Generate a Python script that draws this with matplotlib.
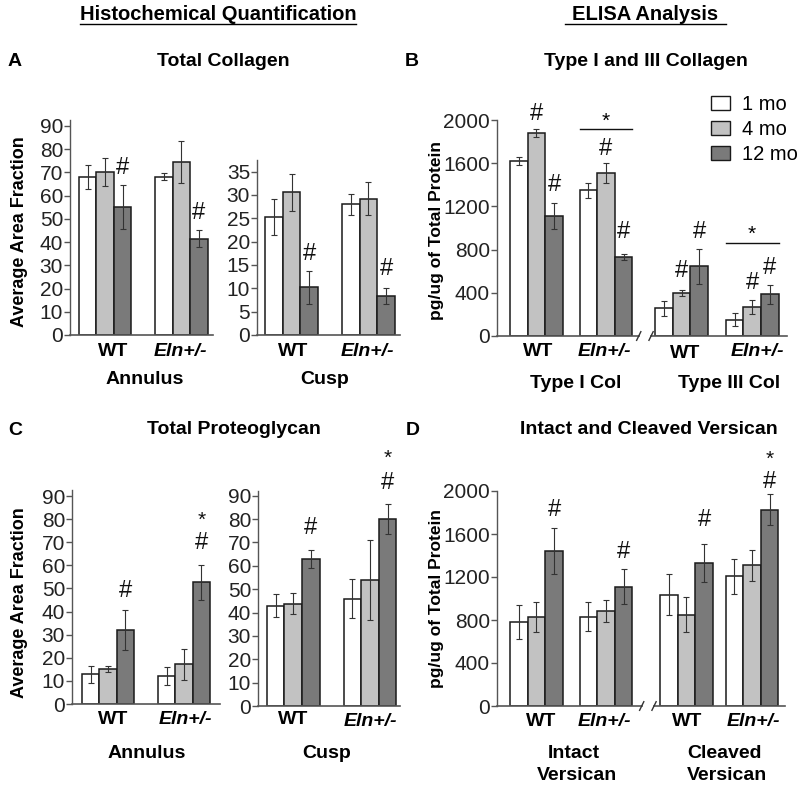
import numpy as np
import matplotlib
matplotlib.use("Agg")
import matplotlib.pyplot as plt
from matplotlib.patches import Patch

plt.rcParams['font.family'] = ['Liberation Sans', 'DejaVu Sans']

W, H = 800, 788

ages = ['1 mo', '4 mo', '12 mo']
colors = ['#ffffff', '#c2c2c2', '#7a7a7a']

# A - total collagen (histochemical)
colA_ann = [[68, 70, 55], [68, 74.5, 41.5]]
colA_ann_err = [[5, 6, 9.5], [1.5, 9, 3.5]]
colA_cusp = [[25.3, 30.6, 10.2], [28, 29.2, 8.3]]
colA_cusp_err = [[3.8, 4, 3.5], [2.2, 3.5, 1.7]]

# B - type I / III collagen (ELISA)
colB = [[1620, 1880, 1110], [1350, 1510, 730], [255, 400, 645], [150, 265, 385]]
colB_err = [[40, 40, 120], [70, 90, 30], [70, 30, 160], [60, 65, 85]]

# C - total proteoglycan
pgC_ann = [[12.8, 15, 32], [12.2, 17.2, 52.7]]
pgC_ann_err = [[3.8, 1.3, 8.5], [4, 6.7, 7.5]]
pgC_cusp = [[43, 43.8, 63], [46, 54, 80]]
pgC_cusp_err = [[5, 4.5, 3.8], [8.5, 17, 6.5]]

# D - intact / cleaved versican
verD = [[780, 830, 1440], [830, 885, 1110], [1035, 850, 1330], [1205, 1310, 1825]]
verD_err = [[160, 140, 215], [135, 105, 165], [190, 165, 180], [160, 145, 145]]

fig = plt.figure(figsize=(W / 100, H / 100), dpi=100)


def fx(x):
  return x / W


def fy(y):
  return 1 - y / H


def mk_axes(left, right, top, bottom):
  return fig.add_axes([fx(left), fy(bottom), (right - left) / W, (bottom - top) / H])


def draw(ax, groups, vals, errs, xlim, ylim, ticks, brk=None):
  groups = np.array(groups)
  for k in range(3):
    v = [g[k] for g in vals]
    e = [g[k] for g in errs]
    ax.bar(groups + k - 1, v, width=1.0, color=colors[k], edgecolor='#1a1a1a',
           linewidth=1.1, yerr=e, capsize=2.2,
           error_kw=dict(ecolor='#333333', elinewidth=0.8, capthick=0.8), zorder=2)
  ax.set_xlim(*xlim)
  ax.set_ylim(*ylim)
  ax.set_yticks(ticks)
  ax.set_xticks([])
  for s in ['top', 'right']:
    ax.spines[s].set_visible(False)
  ax.spines['left'].set_color('#555555')
  ax.spines['left'].set_linewidth(1.0)
  ax.tick_params(axis='y', labelsize=15, length=4, width=1.0, color='#555555', pad=1,
                 labelcolor='#222222')
  ax.patch.set_alpha(0)
  if brk is None:
    ax.spines['bottom'].set_color('#555555')
    ax.spines['bottom'].set_linewidth(1.2)
  else:
    ax.spines['bottom'].set_visible(False)
    tr = ax.get_xaxis_transform()
    ax.plot([xlim[0], brk - 0.35], [0, 0], color='#555555', lw=1.2, transform=tr, clip_on=False)
    ax.plot([brk + 0.35, xlim[1]], [0, 0], color='#555555', lw=1.2, transform=tr, clip_on=False)
    for d in (-0.35, 0.35):
      ax.plot([brk + d - 0.12, brk + d + 0.12], [-0.02, 0.02], color='#333333', lw=1.0,
              transform=tr, clip_on=False)


def mark(ax, x, y, s='#', size=17):
  ax.text(x, y, s, ha='center', va='center', fontsize=size, clip_on=False, color='#111111')


def star_line(ax, x0, x1, y_line, y_star):
  ax.plot([x0, x1], [y_line, y_line], color='#111111', lw=1.0, clip_on=False)
  ax.text((x0 + x1) / 2, y_star, '*', ha='center', va='center', fontsize=15, clip_on=False)


g2 = [0, 4.37]

# ---- Panel A
axA1 = mk_axes(70, 213, 120, 335)
draw(axA1, g2, colA_ann, colA_ann_err, (-2.0, 6.17), (0, 92.5), range(0, 91, 10))
mark(axA1, 1, 72)
mark(axA1, 4.37 + 1, 52.5)

axA2 = mk_axes(257, 400, 160, 335)
draw(axA2, g2, colA_cusp, colA_cusp_err, (-1.96, 6.16), (0, 37.5), range(0, 36, 5))
mark(axA2, 1, 17.3)
mark(axA2, 4.37 + 1, 14.1)

# ---- Panel B
gB = [0, 3.95, 8.24, 12.25]
axB = mk_axes(497, 787, 120, 336)
draw(axB, gB, colB, colB_err, (-2.24, 14.23), (0, 2000), range(0, 2001, 400), brk=6.16)
mark(axB, 0, 2060)
mark(axB, 1, 1400)
star_line(axB, 3.95 - 1.45, 3.95 + 1.45, 1916, 1985)
mark(axB, 3.95, 1730)
mark(axB, 3.95 + 1, 965)
mark(axB, 8.24, 600)
mark(axB, 8.24 + 1, 965)
star_line(axB, 12.25 - 1.5, 12.25 + 1.5, 865, 940)
mark(axB, 12.25, 490)
mark(axB, 12.25 + 1, 630)

leg = [Patch(facecolor=c, edgecolor='#1a1a1a', linewidth=1.0, label=a) for c, a in zip(colors, ages)]
fig.legend(handles=leg, loc='upper left', bbox_to_anchor=(fx(711), fy(95)), frameon=False,
           fontsize=14.5, handlelength=0.95, handleheight=0.75, handletextpad=0.6,
           labelspacing=0.3, borderaxespad=0, borderpad=0)

# ---- Panel C
axC1 = mk_axes(72, 220, 490, 704)
draw(axC1, g2, pgC_ann, pgC_ann_err, (-2.07, 6.44), (0, 92.6), range(0, 91, 10))
mark(axC1, 1, 49)
mark(axC1, 4.37 + 1, 69.5)
mark(axC1, 4.37 + 1, 79.5, '*', 15)

axC2 = mk_axes(258, 400, 491, 706)
draw(axC2, g2, pgC_cusp, pgC_cusp_err, (-2.0, 6.07), (0, 92), range(0, 91, 10))
mark(axC2, 1, 76)
mark(axC2, 4.37 + 1, 95.5)
mark(axC2, 4.37 + 1, 106, '*', 15)

# ---- Panel D
gD = [0, 3.95, 8.52, 12.25]
axD = mk_axes(497, 785, 491, 706)
draw(axD, gD, verD, verD_err, (-2.24, 14.12), (0, 2000), range(0, 2001, 400), brk=6.33)
mark(axD, 1, 1820)
mark(axD, 3.95 + 1, 1430)
mark(axD, 8.52 + 1, 1730)
mark(axD, 12.25 + 1, 2080)
mark(axD, 12.25 + 1, 2290, '*', 15)

# ---- texts
hdr = dict(fontsize=14.5, fontweight='bold', ha='center', va='center')
fig.text(fx(218), fy(14), 'Histochemical Quantification', **hdr)
fig.text(fx(645), fy(14), 'ELISA Analysis', **hdr)
for x0, x1 in [(80, 356), (565, 726)]:
  fig.add_artist(plt.Line2D([fx(x0), fx(x1)], [fy(24), fy(24)], color='black', lw=1.0))

ttl = dict(fontsize=14, fontweight='bold', ha='center', va='center')
fig.text(fx(15), fy(62), 'A', **ttl)
fig.text(fx(412), fy(62), 'B', **ttl)
fig.text(fx(15), fy(431), 'C', **ttl)
fig.text(fx(413), fy(431), 'D', **ttl)
fig.text(fx(223), fy(62), 'Total Collagen', **ttl)
fig.text(fx(646), fy(62), 'Type I and III Collagen', **ttl)
fig.text(fx(234), fy(429), 'Total Proteoglycan', **ttl)
fig.text(fx(649), fy(429), 'Intact and Cleaved Versican', **ttl)

yl = dict(fontsize=13, fontweight='bold', rotation=90, ha='center', va='center')
fig.text(fx(20), fy(232), 'Average Area Fraction', **yl)
fig.text(fx(20), fy(603), 'Average Area Fraction', **yl)
fig.text(fx(437), fy(231), 'pg/ug of Total Protein', fontsize=12.5, fontweight='bold',
         rotation=90, ha='center', va='center')
fig.text(fx(437), fy(598), 'pg/ug of Total Protein', fontsize=12.5, fontweight='bold',
         rotation=90, ha='center', va='center')

lab = dict(fontsize=14, fontweight='bold', ha='center', va='center')
labi = dict(fontsize=14, fontweight='bold', style='italic', ha='center', va='center')
for x, y in [(113, 352), (293, 352), (538, 352), (685, 353), (113, 720), (293, 720), (541, 722), (687, 722)]:
  fig.text(fx(x), fy(y), 'WT', **lab)
for x, y in [(180, 352), (367, 352), (604, 352), (757, 352), (185, 720), (370, 721), (604, 722), (753, 722)]:
  fig.text(fx(x), fy(y), 'Eln+/-', **labi)

fig.text(fx(145), fy(380), 'Annulus', **lab)
fig.text(fx(325), fy(380), 'Cusp', **lab)
fig.text(fx(576), fy(384), 'Type I Col', **lab)
fig.text(fx(729), fy(384), 'Type III Col', **lab)
fig.text(fx(147), fy(753), 'Annulus', **lab)
fig.text(fx(327), fy(753), 'Cusp', **lab)
fig.text(fx(574), fy(753), 'Intact', **lab)
fig.text(fx(577), fy(776), 'Versican', **lab)
fig.text(fx(724), fy(753), 'Cleaved', **lab)
fig.text(fx(727), fy(776), 'Versican', **lab)

fig.savefig('out.png', dpi=100)
